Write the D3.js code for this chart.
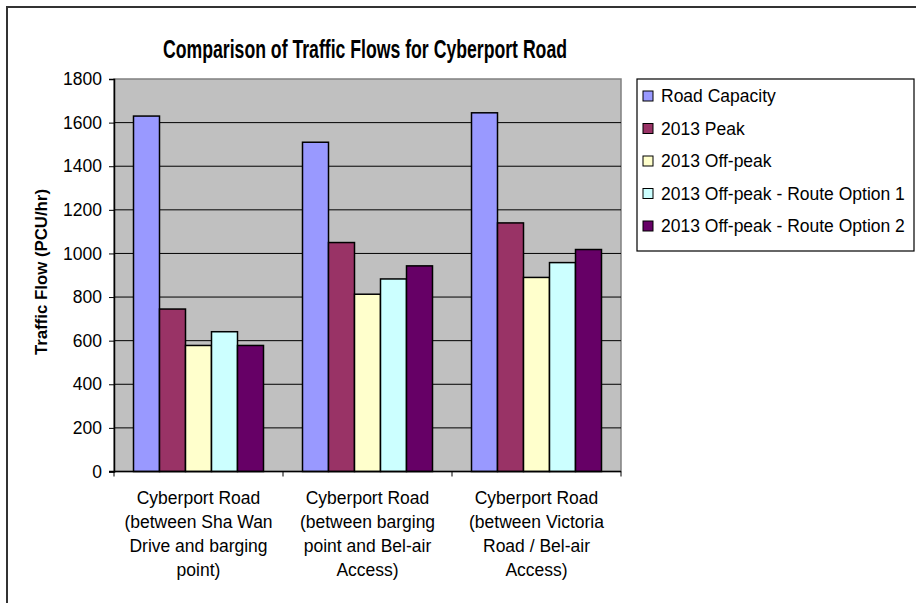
<!DOCTYPE html>
<html><head><meta charset="utf-8">
<script src="https://cdn.jsdelivr.net/npm/d3@7/dist/d3.min.js"></script>
<style>body{margin:0;background:#fff}svg{display:block;font-family:"Liberation Sans",Arial,sans-serif}</style>
</head><body><svg id="c" width="916" height="603"></svg>
<script>
const categories = [
  ["Cyberport Road", "(between Sha Wan", "Drive and barging", "point)"],
  ["Cyberport Road", "(between barging", "point and Bel-air", "Access)"],
  ["Cyberport Road", "(between Victoria", "Road / Bel-air", "Access)"]
];
const seriesNames = ["Road Capacity", "2013 Peak", "2013 Off-peak", "2013 Off-peak - Route Option 1", "2013 Off-peak - Route Option 2"];
const seriesColors = ["#9999FF", "#993366", "#FFFFCC", "#CCFFFF", "#660066"];
const roadCapacity = [1630, 1510, 1645];
const peak2013 = [745, 1050, 1140];
const offPeak2013 = [578, 813, 890];
const offPeakOpt1 = [641, 883, 958];
const offPeakOpt2 = [578, 943, 1018];
const yTicks = [0, 200, 400, 600, 800, 1000, 1200, 1400, 1600, 1800];

const seriesValues = [roadCapacity, peak2013, offPeak2013, offPeakOpt1, offPeakOpt2];
const svg = d3.select("#c");
const L = 114, R = 621, T = 79, B = 471.5;

// outer chart border
svg.append("rect").attr("x", 7).attr("y", 7).attr("width", 920).attr("height", 610)
  .attr("fill", "#fff").attr("stroke", "#333").attr("stroke-width", 2);

svg.append("text").attr("x", 365).attr("y", 58).attr("text-anchor", "middle")
  .attr("font-weight", "bold").attr("font-size", 26)
  .attr("textLength", 404).attr("lengthAdjust", "spacingAndGlyphs")
  .text("Comparison of Traffic Flows for Cyberport Road");

const x0 = d3.scaleBand().domain(d3.range(categories.length)).range([L, R]).paddingInner(0).paddingOuter(0);
const x1 = d3.scaleBand().domain(d3.range(seriesNames.length)).range([0, x0.bandwidth()]).paddingOuter(0.75).paddingInner(0);
const y = d3.scaleLinear().domain([0, 1800]).range([B, T]);

svg.append("rect").attr("x", L).attr("y", T).attr("width", R - L).attr("height", B - T)
  .attr("fill", "#C0C0C0").attr("stroke", "#808080").attr("stroke-width", 1.5);

// gridlines
svg.append("g").selectAll("line").data(yTicks.filter(d => d > 0 && d < 1800)).join("line")
  .attr("x1", L).attr("x2", R).attr("y1", d => y(d)).attr("y2", d => y(d))
  .attr("stroke", "#000").attr("stroke-width", 1);

// bars
seriesValues.forEach((vals, si) => {
  svg.append("g").selectAll("rect").data(vals).join("rect")
    .attr("x", (d, i) => x0(i) + x1(si)).attr("width", x1.bandwidth())
    .attr("y", d => y(d)).attr("height", d => B - y(d))
    .attr("fill", seriesColors[si]).attr("stroke", "#000").attr("stroke-width", 1.5);
});

// y axis
const ya = svg.append("g").attr("transform", `translate(${L},0)`)
  .call(d3.axisLeft(y).tickValues(yTicks).tickSize(5).tickPadding(7).tickFormat(d3.format("d")));
ya.select(".domain").attr("stroke", "#000").attr("stroke-width", 1.5);
ya.selectAll("line").attr("stroke", "#000");
ya.selectAll("text").attr("font-size", 17.5).attr("font-family", "Liberation Sans, Arial").attr("fill", "#000");

// x axis
const xa = svg.append("g").attr("transform", `translate(0,${B})`);
xa.append("line").attr("x1", L - 5).attr("x2", R).attr("stroke", "#000").attr("stroke-width", 1.5);
xa.selectAll(".tk").data(d3.range(categories.length + 1)).join("line")
  .attr("x1", i => i < categories.length ? x0(i) : R).attr("x2", i => i < categories.length ? x0(i) : R)
  .attr("y1", 0).attr("y2", 5).attr("stroke", "#000");
categories.forEach((lines, i) => {
  const t = svg.append("text").attr("text-anchor", "middle").attr("font-size", 17.5);
  lines.forEach((ln, k) => t.append("tspan").attr("x", x0(i) + x0.bandwidth() / 2).attr("y", 504 + k * 24).text(ln));
});

svg.append("text").attr("transform", "translate(47,272) rotate(-90)").attr("text-anchor", "middle")
  .attr("font-weight", "bold").attr("font-size", 17)
  .attr("textLength", 166).attr("lengthAdjust", "spacingAndGlyphs")
  .text("Traffic Flow (PCU/hr)");

// legend
const lg = svg.append("g");
lg.append("rect").attr("x", 637).attr("y", 79).attr("width", 277).attr("height", 172)
  .attr("fill", "#fff").attr("stroke", "#000").attr("stroke-width", 1.2);
seriesNames.forEach((n, i) => {
  const cy = 96 + i * 32.5;
  lg.append("rect").attr("x", 643).attr("y", cy - 5).attr("width", 10).attr("height", 10)
    .attr("fill", seriesColors[i]).attr("stroke", "#000").attr("stroke-width", 1);
  lg.append("text").attr("x", 661).attr("y", cy + 6).attr("font-size", 17.5).text(n);
});
</script></body></html>
